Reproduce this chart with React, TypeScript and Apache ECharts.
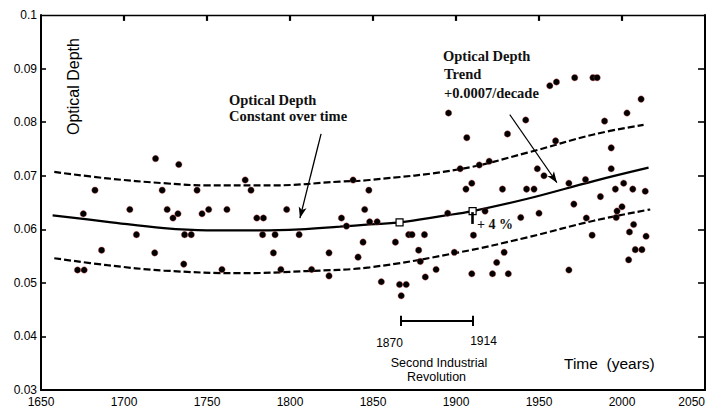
import React, { useEffect, useRef } from "react";
import * as echarts from "echarts";

// Observation points (year, optical depth)
const dotYears = [
  1672, 1676, 1675.5, 1682.5, 1686.5, 1703.5, 1707.5, 1718.5, 1719, 1723,
  1726, 1729.5, 1732.5, 1733, 1736, 1736.5, 1740.5, 1744, 1747, 1751,
  1759, 1762, 1773, 1776.5, 1780, 1784, 1783.5, 1790, 1791, 1794.5,
  1798, 1805.5, 1813, 1823.5, 1823.5, 1831, 1834, 1838, 1841, 1845,
  1847.5, 1848, 1852.5, 1844, 1855, 1863.5, 1866, 1870, 1867, 1871.5,
  1873.5, 1881, 1877.5, 1878.5, 1881.5, 1888, 1895, 1895.5, 1899, 1902.5,
  1906, 1906.5, 1909.5, 1909.5, 1910.5, 1914, 1917.5, 1920, 1922, 1924.5,
  1928, 1929, 1931, 1931.5, 1939, 1942, 1942.5, 1947, 1949, 1950,
  1953, 1956.5, 1960.5, 1960, 1968, 1968, 1971, 1971.5, 1978, 1978.5,
  1982, 1982.5, 1985, 1987, 1989.5, 1993.5, 1993.5, 1996, 1997, 1996.5,
  2000, 2001, 2003, 2004, 2004.5, 2006.5, 2007, 2008, 2012, 2011.5,
  2014, 2014.5,
];
const dotValues = [
  0.0524, 0.0524, 0.0629, 0.0673, 0.0561, 0.0637, 0.059, 0.0556, 0.0732, 0.0673,
  0.0637, 0.0621, 0.0629, 0.0721, 0.0535, 0.059, 0.059, 0.0673, 0.0629, 0.0637,
  0.0525, 0.0637, 0.0692, 0.0673, 0.0621, 0.0621, 0.059, 0.0556, 0.059, 0.0525,
  0.0637, 0.059, 0.0525, 0.0556, 0.0513, 0.0621, 0.0606, 0.0692, 0.0548, 0.0637,
  0.0673, 0.0614, 0.0614, 0.0576, 0.0502, 0.0576, 0.0497, 0.0497, 0.0476, 0.059,
  0.059, 0.059, 0.0561, 0.054, 0.0511, 0.0525, 0.063, 0.0817, 0.0557, 0.0713,
  0.0675, 0.0771, 0.0686, 0.0517, 0.0589, 0.072, 0.0634, 0.0727, 0.0517, 0.0538,
  0.0675, 0.0557, 0.0778, 0.0517, 0.0622, 0.0804, 0.0675, 0.0675, 0.0713, 0.063,
  0.07, 0.0868, 0.0875, 0.0765, 0.0686, 0.0524, 0.0647, 0.0883, 0.0693, 0.0621,
  0.0589, 0.0883, 0.0883, 0.0661, 0.0802, 0.0752, 0.0713, 0.0675, 0.0634, 0.0622,
  0.0642, 0.0686, 0.0817, 0.0543, 0.0595, 0.0675, 0.0609, 0.0562, 0.0562, 0.0843,
  0.0671, 0.0587,
];

// Trend curve (solid)
const trendYears = [1657, 1690, 1724, 1750, 1782, 1806, 1830, 1848, 1866, 1892, 1910, 1943, 1983, 2016];
const trendValues = [0.0626, 0.0614, 0.0602, 0.0598, 0.0598, 0.06, 0.0605, 0.0609, 0.0613, 0.0625, 0.0634, 0.0657, 0.069, 0.0715];

// Upper envelope (dashed)
const upperYears = [1658, 1690, 1724, 1750, 1790, 1830, 1848, 1902, 1943, 1983, 2013];
const upperValues = [0.0707, 0.0695, 0.0686, 0.0682, 0.0682, 0.0689, 0.0692, 0.0712, 0.0743, 0.0777, 0.0795];

// Lower envelope (dashed)
const lowerYears = [1658, 1690, 1724, 1770, 1810, 1848, 1902, 1943, 1983, 2017];
const lowerValues = [0.0546, 0.0533, 0.0523, 0.0518, 0.0522, 0.0529, 0.0557, 0.0585, 0.0616, 0.0637];

// Hollow square markers on trend (1870 and 1914 positions)
const squareYears = [1866, 1910];
const squareValues = [0.0613, 0.0634];

// Bracket for Second Industrial Revolution
const bracketYears = [1867, 1910];
const bracketValue = 0.0429;
const bracketTickHalf = 0.00095;

// Arrows [fromYear, fromValue, toYear, toValue]
const arrowConstant = [1818.7, 0.0778, 1806, 0.0621];
const arrowTrend = [1932.4, 0.0814, 1960.8, 0.0687];

// +4% bar
const pctBar = [1910, 0.0632, 0.061];

// Axis range and tick positions
const xMin = 1650;
const xMax = 2050;
const xStep = 50;
const yMin = 0.03;
const yMax = 0.1;
const yStep = 0.01;
const innerTickYears = [1700, 1750, 1800, 1850, 1900, 1950, 2000];
const innerTickValues = [0.04, 0.05, 0.06, 0.07, 0.08, 0.09];

const zip = (a: number[], b: number[]) => a.map((v, i) => [v, b[i]]);

export default function App() {
  const ref = useRef<HTMLDivElement>(null);

  useEffect(() => {
    if (!ref.current) return;
    const chart = echarts.init(ref.current, null, { renderer: "svg" });
    const labelFont = { color: "#000", fontSize: 12, fontFamily: "Liberation Sans, Arial, sans-serif" };
    const serifBold = { fontFamily: "Liberation Serif, Times New Roman, serif", fontWeight: "bold" as const, fill: "#111" };
    const sans = { fontFamily: "Liberation Sans, Arial, sans-serif", fill: "#000" };

    const seg = (x1: number, y1: number, x2: number, y2: number, endArrow: boolean, width: number) => [
      { coord: [x1, y1], symbol: "none" },
      { coord: [x2, y2], symbol: endArrow ? "arrow" : "none", symbolSize: [6, 11], lineStyle: { width } },
    ];

    // inward frame ticks, positioned through the axes' scales
    const topTickLen = 0.0011; // ~6px
    const leftTickLen = 3; // ~5px
    const rightTickLen = 4.2; // ~7px
    const frameTicks = [
      ...innerTickYears.map((yr) => seg(yr, yMax, yr, yMax - topTickLen, false, 2.2)),
      ...innerTickValues.map((v) => seg(xMin, v, xMin + leftTickLen, v, false, 1.6)),
      ...innerTickValues.map((v) => seg(xMax, v, xMax - rightTickLen, v, false, 1.6)),
    ];

    chart.setOption({
      animation: false,
      backgroundColor: "#fff",
      grid: { left: 41, right: 12, top: 15, bottom: 16 },
      xAxis: [
        {
          type: "value",
          min: xMin,
          max: xMax,
          interval: xStep,
          position: "bottom",
          axisLine: { show: true, onZero: false, lineStyle: { color: "#000", width: 2 } },
          axisTick: { show: false },
          splitLine: { show: false },
          axisLabel: {
            ...labelFont,
            margin: 6,
            alignMaxLabel: "right",
            formatter: (v: number) => String(v),
          },
        },
        {
          type: "value",
          min: xMin,
          max: xMax,
          interval: xStep,
          position: "top",
          axisLine: { show: true, onZero: false, lineStyle: { color: "#000", width: 1.3 } },
          axisTick: { show: false },
          splitLine: { show: false },
          axisLabel: { show: false },
        },
      ],
      yAxis: [
        {
          type: "value",
          min: yMin,
          max: yMax,
          interval: yStep,
          position: "left",
          axisLine: { show: true, onZero: false, lineStyle: { color: "#000", width: 2 } },
          axisTick: { show: false },
          splitLine: { show: false },
          axisLabel: { ...labelFont, margin: 4 },
        },
        {
          type: "value",
          min: yMin,
          max: yMax,
          interval: yStep,
          position: "right",
          axisLine: { show: true, onZero: false, lineStyle: { color: "#000", width: 2 } },
          axisTick: { show: false },
          splitLine: { show: false },
          axisLabel: { show: false },
        },
      ],
      series: [
        {
          type: "line",
          data: zip(upperYears, upperValues),
          smooth: 0.4,
          showSymbol: false,
          lineStyle: { color: "#000", width: 2.2, type: [7, 3] },
          z: 2,
        },
        {
          type: "line",
          data: zip(lowerYears, lowerValues),
          smooth: 0.4,
          showSymbol: false,
          lineStyle: { color: "#000", width: 2.2, type: [7, 3] },
          z: 2,
        },
        {
          type: "line",
          data: zip(trendYears, trendValues),
          smooth: 0.4,
          showSymbol: false,
          lineStyle: { color: "#000", width: 2.2 },
          z: 2,
          markLine: {
            silent: true,
            symbol: "none",
            label: { show: false },
            lineStyle: { color: "#000", type: "solid", width: 1.2 },
            data: [
              seg(arrowConstant[0], arrowConstant[1], arrowConstant[2], arrowConstant[3], true, 1.3),
              seg(arrowTrend[0], arrowTrend[1], arrowTrend[2], arrowTrend[3], true, 1.1),
              seg(bracketYears[0], bracketValue, bracketYears[1], bracketValue, false, 2),
              seg(bracketYears[0], bracketValue + bracketTickHalf, bracketYears[0], bracketValue - bracketTickHalf, false, 2),
              seg(bracketYears[1], bracketValue + bracketTickHalf, bracketYears[1], bracketValue - bracketTickHalf, false, 2),
              seg(pctBar[0], pctBar[1], pctBar[0], pctBar[2], false, 2.6),
              ...frameTicks,
            ],
          },
        },
        {
          type: "scatter",
          data: zip(dotYears, dotValues),
          symbol: "circle",
          symbolSize: 6.5,
          itemStyle: { color: "#000", borderColor: "#d04848", borderWidth: 0.4, opacity: 1 },
          z: 3,
        },
        {
          type: "scatter",
          data: zip(squareYears, squareValues),
          symbol: "rect",
          symbolSize: 7,
          itemStyle: { color: "#fff", borderColor: "#000", borderWidth: 1.2, opacity: 1 },
          z: 4,
        },
      ],
      graphic: [
        {
          type: "text",
          x: 73.5,
          y: 86.5,
          rotation: Math.PI / 2,
          style: { ...sans, text: "Optical Depth", fontSize: 16, align: "center", verticalAlign: "middle" },
        },
        { type: "text", x: 229, y: 99.5, style: { ...serifBold, text: "Optical Depth", fontSize: 14.5, verticalAlign: "middle" } },
        { type: "text", x: 229, y: 115.5, style: { ...serifBold, text: "Constant over time", fontSize: 14.5, verticalAlign: "middle" } },
        { type: "text", x: 443, y: 55.5, style: { ...serifBold, text: "Optical Depth", fontSize: 14.5, verticalAlign: "middle" } },
        { type: "text", x: 444, y: 73.5, style: { ...serifBold, text: "Trend", fontSize: 14.5, verticalAlign: "middle" } },
        { type: "text", x: 444, y: 92.5, style: { ...serifBold, text: "+0.0007/decade", fontSize: 14.5, verticalAlign: "middle" } },
        { type: "text", x: 477, y: 224, style: { ...serifBold, text: "+ 4 %", fontSize: 14, verticalAlign: "middle" } },
        { type: "text", x: 389.5, y: 343, style: { ...sans, text: "1870", fontSize: 12, align: "center", verticalAlign: "middle" } },
        { type: "text", x: 483.5, y: 341, style: { ...sans, text: "1914", fontSize: 12, align: "center", verticalAlign: "middle" } },
        { type: "text", x: 439, y: 362.5, style: { ...sans, text: "Second Industrial", fontSize: 12.5, align: "center", verticalAlign: "middle" } },
        { type: "text", x: 436.5, y: 376.5, style: { ...sans, text: "Revolution", fontSize: 12.5, align: "center", verticalAlign: "middle" } },
        { type: "text", x: 564, y: 363.5, style: { ...sans, text: "Time  (years)", fontSize: 15.5, verticalAlign: "middle" } },
      ],
    });
    return () => chart.dispose();
  }, []);

  return (
    <div
      ref={ref}
      style={{ position: "fixed", left: 0, top: 0, width: 717, height: 408, background: "#fff" }}
    />
  );
}
